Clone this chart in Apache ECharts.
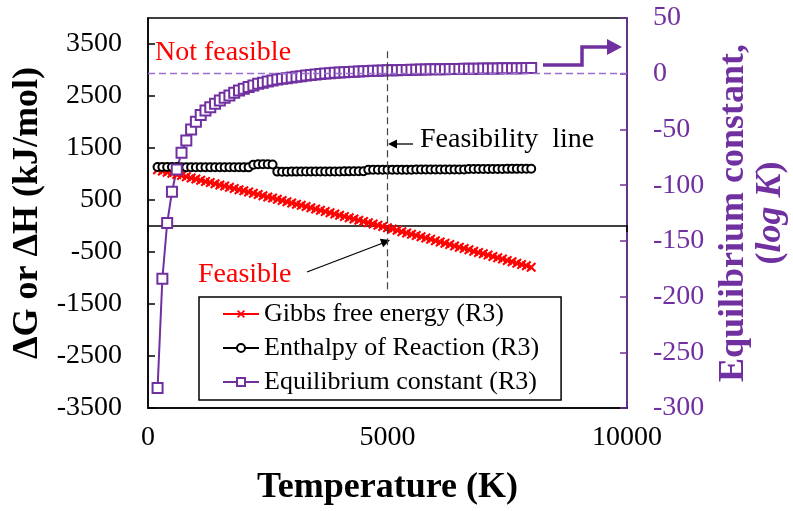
<!DOCTYPE html>
<html>
<head>
<meta charset="utf-8">
<title>Feasibility of R3</title>
<script src="https://cdn.jsdelivr.net/npm/echarts/dist/echarts.min.js"></script>
<style>
  html, body { margin: 0; padding: 0; background: #fff; }
  #main { width: 793px; height: 511px; }
</style>
</head>
<body>
<div id="main"></div>
<script>
// temperature (K), one point every 100 K
var temps = [200, 300, 400, 500, 600, 700, 800, 900, 1000, 1100,
  1200, 1300, 1400, 1500, 1600, 1700, 1800, 1900, 2000, 2100,
  2200, 2300, 2400, 2500, 2600, 2700, 2800, 2900, 3000, 3100,
  3200, 3300, 3400, 3500, 3600, 3700, 3800, 3900, 4000, 4100,
  4200, 4300, 4400, 4500, 4600, 4700, 4800, 4900, 5000, 5100,
  5200, 5300, 5400, 5500, 5600, 5700, 5800, 5900, 6000, 6100,
  6200, 6300, 6400, 6500, 6600, 6700, 6800, 6900, 7000, 7100,
  7200, 7300, 7400, 7500, 7600, 7700, 7800, 7900, 8000];

// Gibbs free energy (kJ/mol)
var gibbs = [1080, 1058, 1036, 1014, 992, 969, 947, 925, 902, 880,
  857, 835, 812, 790, 767, 744, 721, 699, 676, 653,
  630, 607, 584, 560, 537, 514, 491, 467, 444, 420,
  397, 373, 350, 326, 302, 279, 255, 231, 207, 183,
  159, 135, 111, 87, 62, 38, 14, -11, -35, -60,
  -84, -109, -133, -158, -183, -208, -232, -257, -282, -307,
  -332, -357, -383, -408, -433, -458, -484, -509, -535, -560,
  -586, -611, -637, -663, -688, -714, -740, -766, -792];

// enthalpy of reaction (kJ/mol)
var enthalpy = [1135, 1134, 1134, 1133, 1133, 1132, 1132, 1132, 1131, 1131,
  1131, 1130, 1130, 1130, 1130, 1129, 1129, 1129, 1128, 1128,
  1180, 1186, 1188, 1187, 1184, 1046, 1044, 1045, 1046, 1046,
  1047, 1047, 1048, 1048, 1049, 1049, 1050, 1050, 1050, 1051,
  1051, 1052, 1052, 1053, 1080, 1081, 1081, 1082, 1082, 1083,
  1083, 1083, 1084, 1084, 1085, 1085, 1085, 1086, 1086, 1086,
  1087, 1087, 1087, 1088, 1088, 1096, 1096, 1097, 1097, 1097,
  1098, 1098, 1098, 1099, 1099, 1099, 1100, 1100, 1100];

// equilibrium constant (log K)
var logK = [-282, -184, -134, -106, -86, -71, -60, -50, -43, -37,
  -33, -30, -27, -24, -21.5, -19.5, -17, -15, -13.5, -12,
  -10.5, -9, -8, -7, -6, -5.3, -4.6, -4, -3.4, -2.8,
  -2.2, -1.6, -1.1, -0.6, -0.2, 0.2, 0.5, 0.8, 1.1, 1.4,
  1.6, 1.8, 2.0, 2.2, 2.4, 2.6, 2.7, 2.9, 3.0, 3.1,
  3.2, 3.3, 3.4, 3.5, 3.6, 3.7, 3.8, 3.9, 4.0, 4.05,
  4.1, 4.2, 4.25, 4.3, 4.4, 4.45, 4.5, 4.55, 4.6, 4.65,
  4.7, 4.75, 4.8, 4.85, 4.9, 4.95, 5.0, 5.05, 5.1];

var FONT = "'Liberation Serif', 'Times New Roman', serif";
var PURPLE = '#7030a0';

function pairs (ys) {
  return temps.map(function (t, i) { return [t, ys[i]]; });
}

// plain numbers, no thousands separator
function plain (v) { return String(v); }

// x-shaped marker (excel style)
var xMark = 'path://M0,1.5L1.5,0L5,3.5L8.5,0L10,1.5L6.5,5L10,8.5L8.5,10L5,6.5L1.5,10L0,8.5L3.5,5Z';

var myChart = echarts.init(document.getElementById('main'), null, { renderer: 'canvas' });

var option = {
  backgroundColor: '#fff',
  animation: false,
  grid: {
    left: 148, right: 166, top: 18, bottom: 103,
    outerBoundsMode: 'none', containLabel: false,
    show: true, borderColor: '#000', borderWidth: 1.5
  },
  legend: {
    orient: 'vertical',
    left: 199, top: 297,
    backgroundColor: '#fff',
    borderColor: '#000', borderWidth: 1.5,
    padding: [4, 22, 5, 23],
    itemWidth: 36, itemHeight: 10, itemGap: 8,
    textStyle: { fontFamily: FONT, fontSize: 26, color: '#000' },
    data: ['Gibbs free energy (R3)', 'Enthalpy of Reaction (R3)', 'Equilibrium constant (R3)']
  },
  xAxis: [{
    type: 'value', min: 0, max: 10000, interval: 5000,
    position: 'bottom',
    axisLine: { onZero: false, lineStyle: { color: '#000', width: 1.5 } },
    axisTick: { show: false },
    splitLine: { show: false },
    axisLabel: { fontFamily: FONT, fontSize: 28, color: '#000', margin: 16, formatter: plain },
    name: 'Temperature (K)', nameLocation: 'middle', nameGap: 62,
    nameTextStyle: { fontFamily: FONT, fontSize: 36, fontWeight: 'bold', color: '#000' }
  }, {
    // the crossing line at ΔG = 0
    type: 'value', min: 0, max: 10000, interval: 5000,
    position: 'bottom',
    axisLine: { onZero: true, onZeroAxisIndex: 0, lineStyle: { color: '#000', width: 1.5 } },
    axisTick: { show: true, length: 6, lineStyle: { color: '#000', width: 1.5 } },
    axisLabel: { show: false },
    splitLine: { show: false }
  }],
  yAxis: [{
    type: 'value', min: -3500, max: 4000, interval: 1000,
    position: 'left',
    axisLine: { show: true, onZero: false, lineStyle: { color: '#000', width: 1.5 } },
    axisTick: { show: true, inside: true, length: 7, lineStyle: { color: '#000', width: 1.5 } },
    splitLine: { show: false },
    axisLabel: { fontFamily: FONT, fontSize: 28, color: '#000', margin: 26, showMaxLabel: false, formatter: plain },
    name: 'ΔG or ΔH (kJ/mol)', nameLocation: 'middle', nameGap: 102, nameRotate: 90,
    nameTextStyle: { fontFamily: FONT, fontSize: 36, fontWeight: 'bold', color: '#000' }
  }, {
    type: 'value', min: -300, max: 50, interval: 50,
    position: 'right',
    axisLine: { show: true, onZero: false, lineStyle: { color: PURPLE, width: 1.5 } },
    axisTick: { show: true, inside: true, length: 7, lineStyle: { color: PURPLE, width: 1.5 } },
    splitLine: { show: false },
    axisLabel: { fontFamily: FONT, fontSize: 28, color: PURPLE, margin: 26, formatter: plain },
    name: 'Equilibrium constant,\n({i|log K})', nameLocation: 'middle', nameGap: 88, nameRotate: 90,
    nameTextStyle: {
      fontFamily: FONT, fontSize: 36, fontWeight: 'bold', color: PURPLE, lineHeight: 37,
      rich: { i: { fontFamily: FONT, fontSize: 36, fontWeight: 'bold', fontStyle: 'italic', color: PURPLE } }
    }
  }],
  series: [{
    name: 'Gibbs free energy (R3)',
    type: 'line',
    yAxisIndex: 0,
    data: pairs(gibbs),
    symbol: xMark, symbolSize: 10, showAllSymbol: true,
    lineStyle: { color: '#ff0000', width: 1.5 },
    itemStyle: { color: '#ff0000' },
    markLine: {
      silent: true, symbol: 'none', label: { show: false },
      lineStyle: { color: '#444', type: [7, 4], width: 1.2 },
      data: [[{ coord: [5000, 3360] }, { coord: [5000, -1260] }]]
    }
  }, {
    name: 'Enthalpy of Reaction (R3)',
    type: 'line',
    yAxisIndex: 0,
    data: pairs(enthalpy),
    symbol: 'emptyCircle', symbolSize: 8, showAllSymbol: true,
    lineStyle: { color: '#000', width: 1.5 },
    itemStyle: { color: '#000', borderWidth: 2.2 }
  }, {
    name: 'Equilibrium constant (R3)',
    type: 'line',
    yAxisIndex: 1,
    data: pairs(logK),
    symbol: 'emptyRect', symbolSize: 10, showAllSymbol: true,
    lineStyle: { color: PURPLE, width: 2 },
    itemStyle: { color: PURPLE, borderWidth: 1.5 },
    markLine: {
      silent: true, symbol: 'none', label: { show: false },
      lineStyle: { color: '#9b6fd0', type: [7, 4], width: 1.4 },
      data: [{ yAxis: 0 }]
    }
  }],
  graphic: [
    { type: 'text', x: 155, y: 53, style: { text: 'Not feasible', font: '28px ' + FONT, fill: '#ff0000', verticalAlign: 'middle' } },
    { type: 'text', x: 198, y: 275, style: { text: 'Feasible', font: '28px ' + FONT, fill: '#ff0000', verticalAlign: 'middle' } },
    { type: 'text', x: 420, y: 140, style: { text: 'Feasibility  line', font: '28px ' + FONT, fill: '#000', verticalAlign: 'middle' } },
    // arrow to the feasibility line
    { type: 'line', shape: { x1: 413, y1: 144, x2: 394, y2: 144 }, style: { stroke: '#000', lineWidth: 1.3 } },
    { type: 'polygon', shape: { points: [[397, 139.5], [388, 144], [397, 148.5]] }, style: { fill: '#000' } },
    // arrow from "Feasible" to the crossing point
    { type: 'line', shape: { x1: 307, y1: 272, x2: 383, y2: 243 }, style: { stroke: '#000', lineWidth: 1.3 } },
    { type: 'polygon', shape: { points: [[390, 240], [383.1, 247.2], [379.8, 238.8]] }, style: { fill: '#000' } },
    // bent arrow pointing to the log K axis
    { type: 'polyline', shape: { points: [[543, 65], [582, 65], [582, 47], [610, 47]] }, style: { stroke: PURPLE, lineWidth: 3.5, fill: null } },
    { type: 'polygon', shape: { points: [[607, 39], [622, 47], [607, 55]] }, style: { fill: PURPLE } }
  ]
};

myChart.setOption(option);
</script>
</body>
</html>
